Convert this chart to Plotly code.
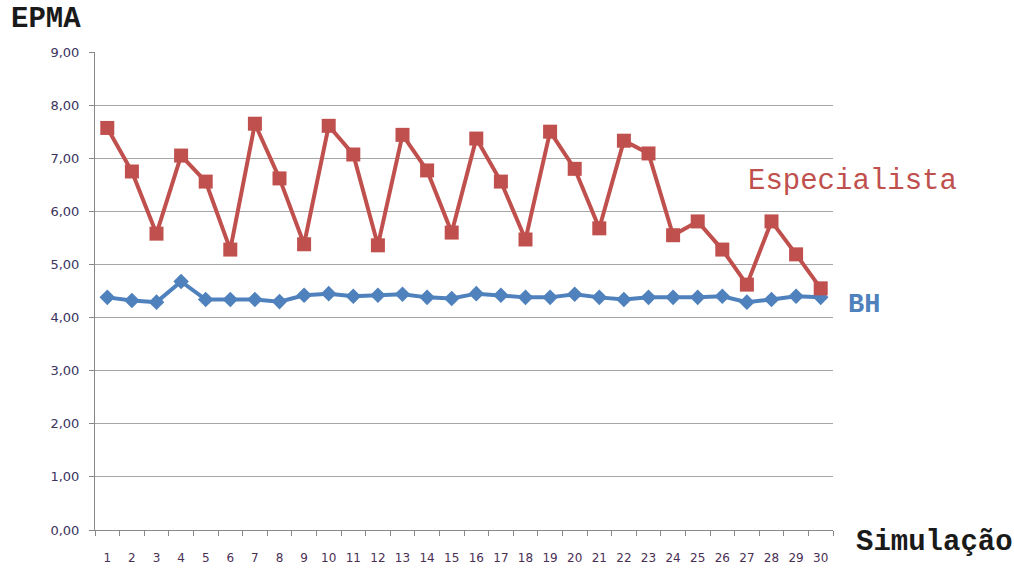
import plotly.graph_objects as go

# Simulation runs and EPMA values for each method
simulacoes = [str(i) for i in range(1, 31)]
especialista = [7.57, 6.75, 5.58, 7.05, 6.56, 5.28, 7.65, 6.62, 5.38, 7.61,
                7.07, 5.36, 7.44, 6.77, 5.60, 7.37, 6.56, 5.47, 7.50, 6.80,
                5.68, 7.33, 7.09, 5.55, 5.81, 5.28, 4.62, 5.81, 5.19, 4.55]
bh = [4.38, 4.32, 4.29, 4.68, 4.34, 4.34, 4.34, 4.30, 4.42, 4.45,
      4.40, 4.42, 4.44, 4.38, 4.36, 4.45, 4.42, 4.38, 4.38, 4.44,
      4.38, 4.34, 4.38, 4.38, 4.38, 4.40, 4.29, 4.34, 4.40, 4.38]
y_ticks = [0, 1, 2, 3, 4, 5, 6, 7, 8, 9]

RED = "#C0504D"
BLUE = "#4F81BD"
MONO = "Liberation Mono, Courier New, monospace"

fig = go.Figure()
fig.add_trace(go.Scatter(
    x=simulacoes, y=bh, mode="lines+markers", name="BH",
    line=dict(color=BLUE, width=4),
    marker=dict(symbol="diamond", size=12, color=BLUE),
))
fig.add_trace(go.Scatter(
    x=simulacoes, y=especialista, mode="lines+markers", name="Especialista",
    line=dict(color=RED, width=4),
    marker=dict(symbol="square", size=14, color=RED),
))

fig.update_layout(
    width=1014, height=569,
    margin=dict(l=95, r=181, t=52, b=39),
    paper_bgcolor="white", plot_bgcolor="white",
    showlegend=False,
    separators=",.",
    font=dict(family="DejaVu Sans, Verdana, sans-serif", size=12, color="#333344"),
    xaxis=dict(
        type="category", tickson="boundaries", range=[-0.5, 29.5],
        tickangle=0, ticklabelstandoff=17, automargin=False,
        ticks="outside", ticklen=5, tickcolor="#888888",
        showline=True, linecolor="#888888", linewidth=1,
        showgrid=False, tickfont=dict(size=12, color="#4a2f55"),
    ),
    yaxis=dict(
        range=[0, 9], tickvals=y_ticks, tickformat=".2f",
        ticklabelstandoff=7, automargin=False,
        ticks="outside", ticklen=5, tickcolor="#888888",
        showline=True, linecolor="#888888", linewidth=1,
        showgrid=True, gridcolor="#A6A6A6", gridwidth=1,
        zeroline=False, tickfont=dict(size=13, color="#3a3360"),
    ),
    annotations=[
        dict(text="<b>EPMA</b>", xref="paper", yref="paper", x=-0.117, y=1.067,
             xanchor="left", yanchor="middle", showarrow=False,
             font=dict(family=MONO, size=29, color="#1a1a1a")),
        dict(text="<b>Simulação</b>", xref="paper", yref="paper", x=1.028, y=-0.027,
             xanchor="left", yanchor="middle", showarrow=False,
             font=dict(family=MONO, size=29, color="#1a1a1a")),
        dict(text="Especialista", xref="paper", yref="paper", x=0.882, y=0.730,
             xanchor="left", yanchor="middle", showarrow=False,
             font=dict(family=MONO, size=29, color=RED)),
        dict(text="<b>BH</b>", xref="paper", yref="paper", x=1.018, y=0.471,
             xanchor="left", yanchor="middle", showarrow=False,
             font=dict(family=MONO, size=27, color=BLUE)),
    ],
)

fig.write_html("out.html")
